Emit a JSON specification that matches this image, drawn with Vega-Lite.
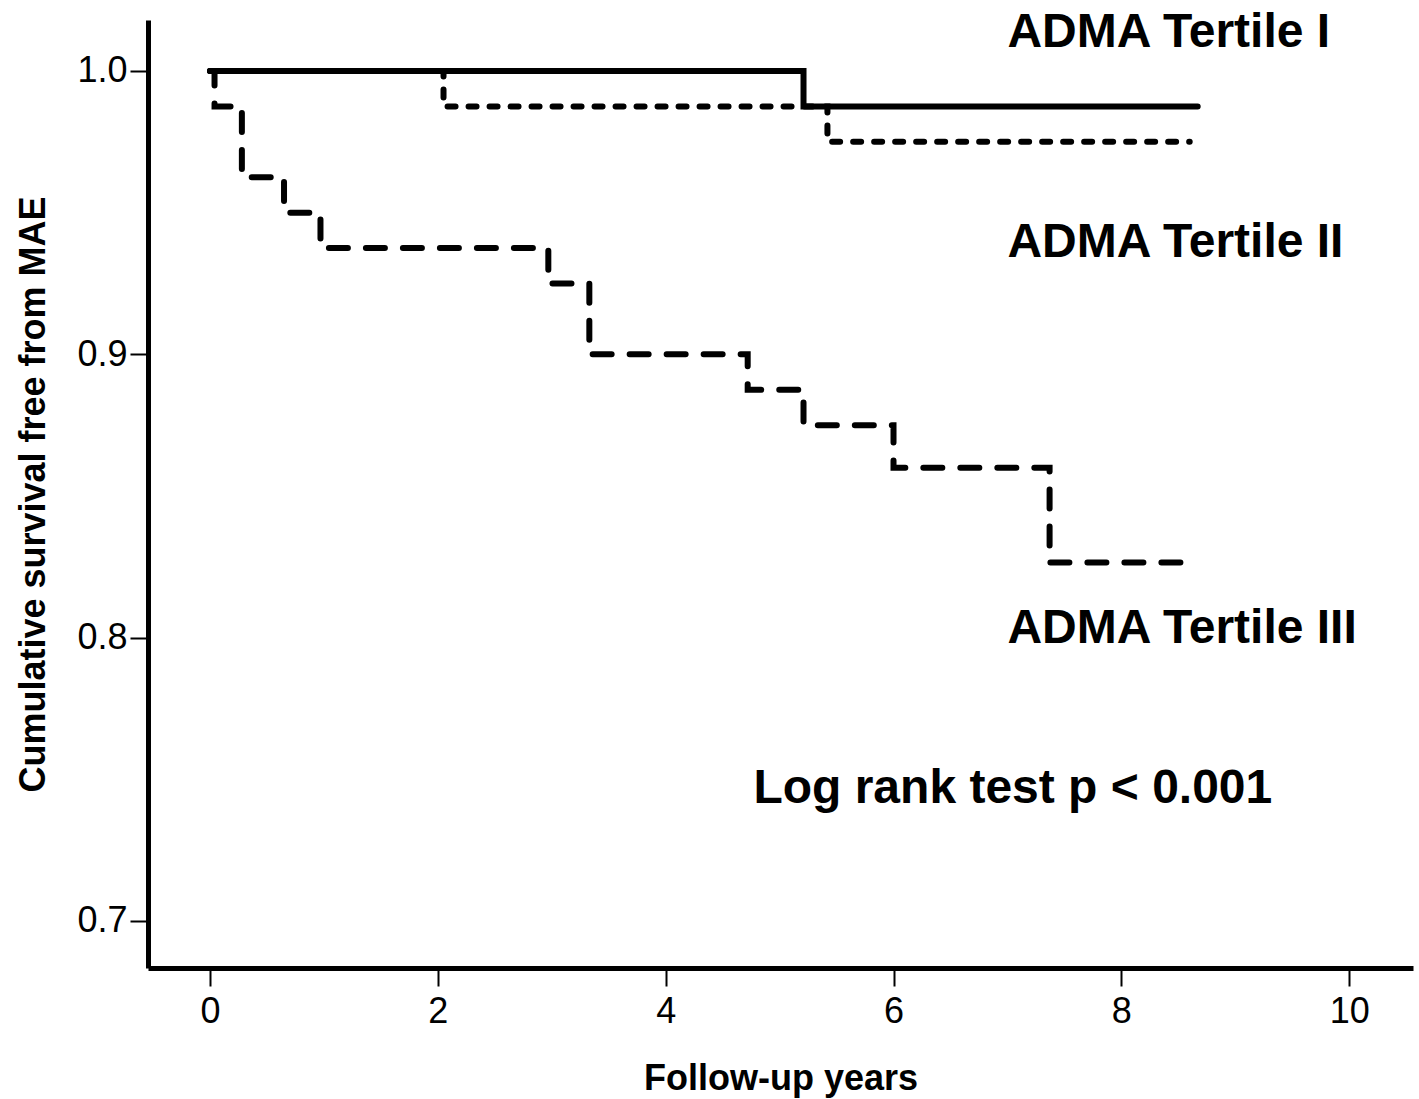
{
  "$schema": "https://vega.github.io/schema/vega-lite/v6.json",
  "autosize": {"type": "none"},
  "width": 1265,
  "height": 948,
  "padding": {"left": 148, "top": 20, "right": 6, "bottom": 131},
  "background": "white",
  "config": {
    "view": {"stroke": null},
    "font": "Liberation Sans",
    "axis": {
      "grid": false,
      "domainColor": "black",
      "domainWidth": 5,
      "tickColor": "black",
      "tickWidth": 2,
      "tickSize": 18,
      "labelColor": "black",
      "labelFont": "Liberation Sans",
      "labelFontSize": 36,
      "titleColor": "black",
      "titleFont": "Liberation Sans",
      "titleFontSize": 36,
      "titleFontWeight": "bold"
    }
  },
  "datasets": {
    "km": [
      {"tertile": "I", "time": 0, "surv": 1.0},
      {"tertile": "I", "time": 5.21, "surv": 0.9875},
      {"tertile": "I", "time": 8.67, "surv": 0.9875},
      {"tertile": "II", "time": 0, "surv": 1.0},
      {"tertile": "II", "time": 2.05, "surv": 0.9875},
      {"tertile": "II", "time": 5.42, "surv": 0.975},
      {"tertile": "II", "time": 8.6, "surv": 0.975},
      {"tertile": "III", "time": 0, "surv": 1.0},
      {"tertile": "III", "time": 0.04, "surv": 0.9875},
      {"tertile": "III", "time": 0.28, "surv": 0.9625},
      {"tertile": "III", "time": 0.65, "surv": 0.95},
      {"tertile": "III", "time": 0.97, "surv": 0.9375},
      {"tertile": "III", "time": 2.97, "surv": 0.925},
      {"tertile": "III", "time": 3.33, "surv": 0.9},
      {"tertile": "III", "time": 4.72, "surv": 0.8875},
      {"tertile": "III", "time": 5.21, "surv": 0.875},
      {"tertile": "III", "time": 6.0, "surv": 0.86},
      {"tertile": "III", "time": 7.37, "surv": 0.8265},
      {"tertile": "III", "time": 8.65, "surv": 0.8265}
    ],
    "labels": [
      {"label": "ADMA Tertile I", "lx": 7.0, "ly": 1.0085},
      {"label": "ADMA Tertile II", "lx": 7.0, "ly": 0.9344},
      {"label": "ADMA Tertile III", "lx": 7.0, "ly": 0.7982},
      {"label": "Log rank test p < 0.001", "lx": 4.77, "ly": 0.7418}
    ]
  },
  "layer": [
    {
      "data": {"name": "km"},
      "transform": [{"filter": "datum.tertile === 'III'"}],
      "mark": {"type": "line", "interpolate": "step-after", "color": "black", "strokeWidth": 6, "strokeDash": [19, 18], "strokeCap": "round", "clip": true},
      "encoding": {
        "x": {"field": "time", "type": "quantitative", "scale": {"domain": [-0.544, 10.56], "nice": false, "zero": false},
          "axis": {"values": [0, 2, 4, 6, 8, 10], "format": "d", "title": "Follow-up years", "labelPadding": 8, "titlePadding": 32}},
        "y": {"field": "surv", "type": "quantitative", "scale": {"domain": [0.6834, 1.018], "nice": false, "zero": false},
          "axis": {"values": [0.7, 0.8, 0.9, 1.0], "format": ".1f", "title": "Cumulative survival free from MAE", "labelPadding": 3, "titlePadding": 24}},
        "order": {"field": "time", "type": "quantitative"}
      }
    },
    {
      "data": {"name": "km"},
      "transform": [{"filter": "datum.tertile === 'II'"}],
      "mark": {"type": "line", "interpolate": "step-after", "color": "black", "strokeWidth": 6, "strokeDash": [8, 13], "strokeCap": "round"},
      "encoding": {
        "x": {"field": "time", "type": "quantitative"},
        "y": {"field": "surv", "type": "quantitative"},
        "order": {"field": "time", "type": "quantitative"}
      }
    },
    {
      "data": {"name": "km"},
      "transform": [{"filter": "datum.tertile === 'I'"}],
      "mark": {"type": "line", "interpolate": "step-after", "color": "black", "strokeWidth": 6, "strokeCap": "round"},
      "encoding": {
        "x": {"field": "time", "type": "quantitative"},
        "y": {"field": "surv", "type": "quantitative"},
        "order": {"field": "time", "type": "quantitative"}
      }
    },
    {
      "data": {"name": "labels"},
      "mark": {"type": "text", "align": "left", "baseline": "alphabetic", "font": "Liberation Sans", "fontSize": 48, "fontWeight": "bold", "color": "black"},
      "encoding": {
        "x": {"field": "lx", "type": "quantitative"},
        "y": {"field": "ly", "type": "quantitative"},
        "text": {"field": "label"}
      }
    }
  ]
}
